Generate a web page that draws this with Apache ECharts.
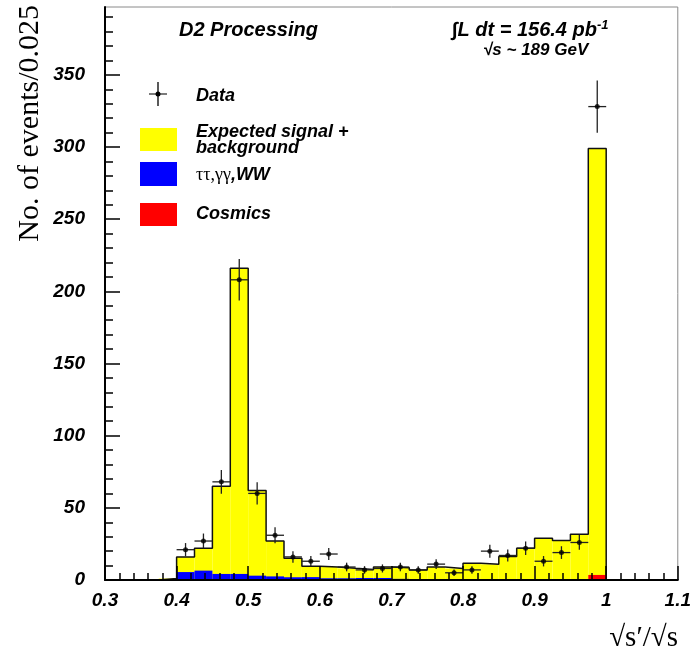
<!DOCTYPE html>
<html>
<head>
<meta charset="utf-8">
<script src="https://cdn.jsdelivr.net/npm/echarts@6/dist/echarts.min.js"></script>
<style>
html,body{margin:0;padding:0;background:#fff;}
#chart{width:694px;height:656px;}
</style>
</head>
<body>
<div id="chart"></div>
<script>
// ---- data ----
const binEdges = [0.375,0.4,0.425,0.45,0.475,0.5,0.525,0.55,0.575,0.6,0.625,0.65,0.675,
                  0.7,0.725,0.75,0.775,0.8,0.825,0.85,0.875,0.9,0.925,0.95,0.975,1.0];
// Expected signal + background (yellow, total)
const expected = [1,16,22,65,216,62,27,15,9.5,9,8.1,7.3,9,8.5,7,9,8,11.6,10.9,16.2,22,29,27.3,31.7,299];
// tautau, gammagamma, WW (blue)
const tauGamWW = [0,5.5,6.5,4.2,4.2,3,2.5,1.9,2,1.2,1.2,1.4,1.4,0.8,0.6,0.3,0.3,0.2,0.2,0,0,0,0,0,0];
// Cosmics (red)
const cosmics  = [0,0,0,0,0,0,0,0,0,0,0,0,0,0,0,0,0,0,0,0,0,0,0,0,3.5];
// Data points (bin centres, counts, errors)
const dataX   = [0.4125,0.4375,0.4625,0.4875,0.5125,0.5375,0.5625,0.5875,0.6125,0.6375,0.6625,0.6875,
                 0.7125,0.7375,0.7625,0.7875,0.8125,0.8375,0.8625,0.8875,0.9125,0.9375,0.9625,0.9875];
const dataY   = [21,27,68,208,60,31,16,13,18,9,7,8,9,7,11,5,7,20,17,22,13,19,26,328];
const dataErr = [4.6,5.2,8.2,14.4,7.7,5.6,4,3.6,4.2,3,2.6,2.8,3,2.6,3.3,2.2,2.6,4.5,4.1,4.7,3.6,4.4,5.1,18.1];
const dataHalfWidth = 0.0125;
// axis ticks
const yMajorTicks = [0,50,100,150,200,250,300,350];
const yMinorTicks = [10,20,30,40,60,70,80,90,110,120,130,140,160,170,180,190,210,220,230,240,
                     260,270,280,290,310,320,330,340,360,370,380,390];

// ---- build library inputs ----
function binData(vals){
  return vals.map((v,i)=>[binEdges[i], binEdges[i+1], v]);
}
const outline = [[binEdges[0],0]];
expected.forEach((v,i)=>{ outline.push([binEdges[i],v]); outline.push([binEdges[i+1],v]); });
outline.push([binEdges[binEdges.length-1],0]);

function histRender(color){
  return function(params, api){
    const p0 = api.coord([api.value(0), api.value(2)]);
    const p1 = api.coord([api.value(1), 0]);
    return {type:'rect', shape:{x:p0[0], y:p0[1], width:p1[0]-p0[0], height:p1[1]-p0[1]},
            style:{fill:color}};
  };
}

const SANS = '"Liberation Sans", Arial, Helvetica, sans-serif';
const SERIF = '"Liberation Serif", "Times New Roman", serif';
const lblStyle = {fontFamily:SANS, fontWeight:'bold', fontStyle:'italic', fontSize:19, color:'#000'};

const chart = echarts.init(document.getElementById('chart'), null, {renderer:'canvas'});
chart.setOption({
  animation:false,
  backgroundColor:'#fff',
  grid:{left:105, right:16, top:7, bottom:76, show:true, borderColor:'#8a8a8a', borderWidth:1, backgroundColor:'transparent'},
  xAxis:{
    type:'value', min:0.3, max:1.1, interval:0.1, z:10,
    axisLine:{onZero:false, lineStyle:{color:'#000', width:2}},
    axisTick:{inside:true, length:14, lineStyle:{color:'#000', width:1.5}},
    minorTick:{show:true, splitNumber:5, length:7, lineStyle:{color:'#000', width:1.5}},
    splitLine:{show:false}, minorSplitLine:{show:false},
    axisLabel:Object.assign({margin:11, formatter:v=>String(+(+v).toFixed(2))}, lblStyle)
  },
  yAxis:[{
    type:'value', min:0, max:397, z:10,
    axisLine:{show:true, lineStyle:{color:'#000', width:2}},
    axisTick:{inside:true, length:15, customValues:yMajorTicks, lineStyle:{color:'#000', width:1.5}},
    splitLine:{show:false},
    axisLabel:Object.assign({margin:20, customValues:yMajorTicks}, lblStyle)
  },{
    type:'value', min:0, max:397, position:'left', z:10,
    axisLine:{show:false},
    axisTick:{inside:true, length:8, customValues:yMinorTicks, lineStyle:{color:'#000', width:1.5}},
    splitLine:{show:false},
    axisLabel:{show:false}
  }],
  series:[
    {type:'custom', name:'Expected signal + background', renderItem:histRender('#ffff00'),
     data:binData(expected), encode:{x:[0,1], y:2}, z:2, silent:true},
    {type:'line', name:'outline', data:outline, symbol:'none', z:3, silent:true,
     lineStyle:{color:'#111', width:1.5}},
    {type:'custom', name:'ττ,γγ,WW', renderItem:histRender('#0000ff'),
     data:binData(tauGamWW), encode:{x:[0,1], y:2}, z:4, silent:true},
    {type:'custom', name:'Cosmics', renderItem:histRender('#ff0000'),
     data:binData(cosmics), encode:{x:[0,1], y:2}, z:4, silent:true},
    {type:'custom', name:'Data errors', z:6, silent:true,
     data:dataX.map((x,i)=>[x, dataY[i], dataErr[i]]),
     encode:{x:0, y:1},
     renderItem:function(params, api){
       const x = api.value(0), y = api.value(1), e = api.value(2);
       const l = api.coord([x-dataHalfWidth, y]), r = api.coord([x+dataHalfWidth, y]);
       const t = api.coord([x, y+e]), b = api.coord([x, y-e]);
       const st = {stroke:'#222', lineWidth:1.3};
       return {type:'group', children:[
         {type:'line', shape:{x1:l[0], y1:l[1], x2:r[0], y2:r[1]}, style:st},
         {type:'line', shape:{x1:t[0], y1:t[1], x2:b[0], y2:b[1]}, style:st}
       ]};
     }},
    {type:'scatter', name:'Data', data:dataX.map((x,i)=>[x, dataY[i]]), symbol:'circle', symbolSize:5,
     itemStyle:{color:'#000'}, z:7, silent:true}
  ],
  graphic:[
    {type:'text', x:30, y:5, rotation:Math.PI/2,
     style:{text:'No. of events/0.025', font:'30px '+SERIF, fill:'#000', textAlign:'right', textVerticalAlign:'middle'}},
    {type:'text', x:678, y:638,
     style:{text:'√s′/√s', font:'29px '+SERIF, fill:'#000', textAlign:'right', textVerticalAlign:'middle'}},
    {type:'text', x:179, y:30,
     style:{text:'D2 Processing', font:'italic bold 20px '+SANS, fill:'#000', textAlign:'left', textVerticalAlign:'middle'}},
    {type:'text', x:452, y:30,
     style:{text:'{m|∫L dt = 156.4 pb}{s|-1}', textAlign:'left', textVerticalAlign:'middle',
       rich:{m:{font:'italic bold 20px '+SANS, fill:'#000', lineHeight:22},
             s:{font:'italic bold 13px '+SANS, fill:'#000', verticalAlign:'top', lineHeight:12}}}},
    {type:'text', x:483, y:50,
     style:{text:'√s ~ 189 GeV', font:'italic bold 17px '+SANS, fill:'#000', textAlign:'left', textVerticalAlign:'middle'}},
    // legend
    {type:'line', shape:{x1:158, y1:82, x2:158, y2:106}, style:{stroke:'#000', lineWidth:1.3}},
    {type:'line', shape:{x1:149, y1:94, x2:167, y2:94}, style:{stroke:'#333', lineWidth:1.3}},
    {type:'circle', shape:{cx:158, cy:94, r:2.5}, style:{fill:'#000'}},
    {type:'text', x:196, y:96,
     style:{text:'Data', font:'italic bold 18px '+SANS, fill:'#000', textVerticalAlign:'middle'}},
    {type:'rect', shape:{x:140, y:128, width:37, height:23}, style:{fill:'#ffff00'}},
    {type:'text', x:196, y:140,
     style:{text:'Expected signal +\nbackground', font:'italic bold 18px '+SANS, fill:'#000', lineHeight:16, textVerticalAlign:'middle'}},
    {type:'rect', shape:{x:140, y:162, width:37, height:24}, style:{fill:'#0000ff'}},
    {type:'text', x:196, y:175,
     style:{text:'{g|ττ,γγ}{b|,WW}', textVerticalAlign:'middle',
       rich:{g:{font:'18px '+SERIF, fill:'#000'}, b:{font:'italic bold 18px '+SANS, fill:'#000'}}}},
    {type:'rect', shape:{x:140, y:203, width:37, height:23}, style:{fill:'#ff0000'}},
    {type:'text', x:196, y:214,
     style:{text:'Cosmics', font:'italic bold 18px '+SANS, fill:'#000', textVerticalAlign:'middle'}}
  ]
});
</script>
</body>
</html>
